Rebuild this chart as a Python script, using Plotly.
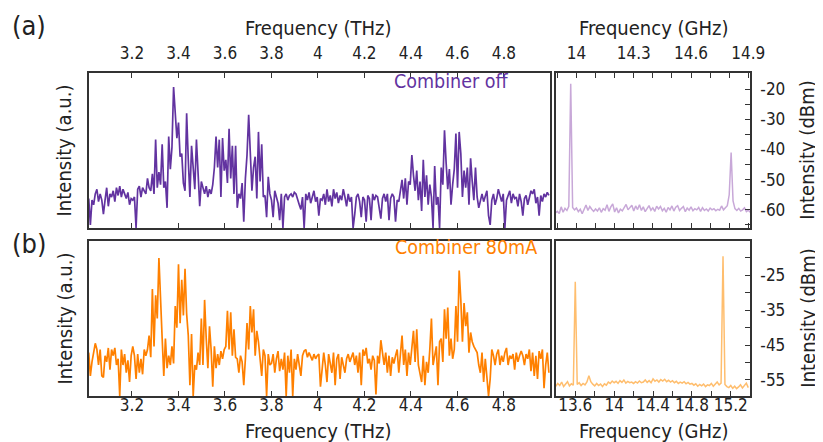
import numpy as np
import plotly.graph_objects as go

# ---------------- data ----------------
# THz spectra (arbitrary units, 0-100), sampled on a regular frequency grid
thz_start = 3.014
thz_step = 0.00702

int_off = [
    19, 2, 18, 15, 22, 25, 17, 22, 18, 9,
    18, 26, 14, 22, 20, 24, 17, 26, 21, 27,
    20, 25, 22, 19, 23, 15, 19, 18, 20, 0,
    25, 27, 20, 26, 24, 22, 32, 26, 24, 35,
    22, 57, 26, 36, 28, 54, 26, 30, 13, 59,
    38, 52, 91, 70, 58, 68, 46, 48, 29, 24,
    74, 44, 20, 53, 38, 25, 57, 30, 14, 30,
    26, 22, 27, 20, 25, 22, 28, 39, 59, 39,
    57, 20, 58, 37, 44, 29, 64, 32, 53, 22,
    53, 13, 22, 19, 29, 4, 32, 47, 73, 46,
    24, 39, 46, 19, 62, 30, 54, 20, 21, 7,
    33, 22, 18, 7, 24, 20, 16, 5, 22, 0,
    20, 22, 18, 21, 22, 20, 23, 22, 18, 15,
    12, 20, 0, 22, 18, 23, 16, 21, 24, 17,
    20, 8, 19,
    18, 22, 15, 25, 17, 21, 14, 25, 19, 23,
    16, 21, 18, 25, 20, 14, 22, 17, 20, 0,
    9, 20, 22, 17, 7, 20, 18, 4, 21, 19,
    5, 22, 18, 21, 20, 14, 6, 19, 22, 17,
    22, 5, 19, 22, 20, 4, 18, 17, 25, 31,
    19, 32, 15, 30, 28, 47, 34, 24, 37, 18,
    30, 11, 44, 20, 34, 15, 28, 20, 0, 40,
    15, 20, 0, 39, 28, 63, 42, 25, 38, 15,
    28, 38, 61, 26, 62, 48, 20, 37, 26, 39,
    15, 45, 30, 18, 39, 20, 13, 18, 22, 17,
    21, 24, 8, 2, 18, 22, 15, 19, 25, 20,
    17, 22, 0, 18, 21, 24, 16, 22, 19, 20,
    14, 22, 17, 8, 19, 21, 15, 20, 24, 22,
    25, 16, 20, 8, 21, 17, 22, 20, 23, 21,
]

int_80ma = [
    28, 13, 22, 28, 34, 30, 20, 30, 13, 12,
    26, 22, 31, 17, 30, 26, 31, 20, 24, 0,
    30, 20, 27, 15, 23, 9, 26, 32, 26, 11,
    27, 15, 24, 14, 30, 26, 30, 39, 25, 69,
    32, 65, 50, 89, 58, 37, 13, 37, 18, 26,
    20, 32, 21, 58, 44, 85, 47, 75, 52, 82,
    53, 39, 7, 40, 0, 20, 17, 28, 20, 50,
    20, 62, 37, 18, 45, 30, 6, 32, 18, 27,
    20, 29, 24, 30, 32, 55, 30, 54, 26, 43,
    25, 24, 15, 26, 22, 7, 24, 47, 30, 58,
    41, 56, 26, 42, 35, 25, 13, 30, 26, 0,
    27, 20, 21, 27, 15, 24, 29, 16, 24, 17,
    28, 0, 26, 15, 30, 0, 24, 17, 27, 20,
    13, 26, 29, 30, 25, 28, 26, 23, 27, 24,
    26, 27, 6,
    15, 28, 20, 9, 27, 20, 15, 28, 7, 24,
    27, 11, 25, 20, 15, 24, 27, 22, 25, 28,
    20, 26, 15, 28, 7, 30, 26, 31, 21, 24,
    17, 26, 23, 1, 26, 21, 36, 27, 20, 28,
    15, 26, 13, 25, 21, 26, 30, 15, 27, 39,
    20, 30, 13, 28, 20, 30, 42, 22, 43, 20,
    13, 9, 26, 7, 22, 15, 30, 50, 20, 27,
    32, 7, 35, 37, 22, 56, 37, 57, 26, 37,
    24, 30, 58, 35, 81, 62, 35, 60, 45, 54,
    28, 41, 35, 32, 30, 28, 20, 15, 28, 9,
    24, 13, 0, 11, 30, 26, 20, 27, 30, 20,
    26, 22, 28, 31, 20, 26, 24, 27, 17, 28,
    22, 26, 29, 26, 20, 27, 24, 30, 16, 28,
    13, 26, 11, 29, 24, 30, 5, 20, 28, 15,
]

# GHz beat-note spectra (dBm)
ghz_off_start = 13.89
ghz_off_step = 0.01
dbm_off = [
    -61.0, -60.5, -61.2, -59.0, -60.8, -59.5, -60.2, -58.8, -18.3, -59.2,
    -60.0, -59.4, -60.6, -59.8, -61.3, -59.6, -58.4, -60.2, -58.9, -59.8,
    -60.5, -59.7, -60.4, -59.3, -60.8, -59.6, -60.1, -58.3, -60.5, -59.0,
    -58.0, -60.7, -59.3, -61.0, -59.8, -60.3, -59.1, -58.2, -60.0, -59.2,
    -58.5, -60.4, -58.7, -59.9, -58.3, -60.2, -59.0, -60.6, -59.4, -58.6,
    -60.1, -59.3, -60.5, -58.8, -59.7, -58.9, -60.3, -59.5, -60.8, -59.2,
    -60.0, -58.7, -60.4, -59.1, -58.6, -60.2, -59.5, -58.9, -60.6, -59.4,
    -60.1, -59.0, -60.3, -59.6, -60.0, -59.2, -60.5, -59.3, -60.2, -59.7,
    -60.4, -59.4, -60.0, -59.6, -60.3, -59.8, -60.1, -58.7, -60.0, -59.4,
    -58.6, -55.0, -41.0, -57.0, -59.6, -60.2, -59.5, -60.4, -60.0, -59.3,
    -60.6, -60.1, -60.8,
]

ghz_80_start = 13.40
ghz_80_step = 0.02
dbm_80ma = [
    -56.8, -56.0, -56.6, -55.6, -56.9, -56.2, -55.5, -56.7, -56.1, -56.5,
    -26.9, -56.3, -55.8, -56.6, -56.0, -56.4, -55.6, -53.8, -55.5, -56.2,
    -56.7, -56.0, -56.6, -56.2, -56.9, -56.1, -56.5, -55.6, -56.0, -55.3,
    -55.8, -55.4, -56.0, -55.2, -55.7, -55.0, -55.9, -55.4, -55.8, -55.6,
    -56.0, -55.5, -55.9, -55.3, -55.8, -55.6, -55.0, -55.7, -55.2, -55.8,
    -54.7, -55.4, -55.0, -55.6, -54.9, -55.3, -54.8, -55.5, -55.1, -55.6,
    -55.2, -55.8, -55.4, -56.0, -55.6, -55.9, -55.5, -56.1, -55.7, -56.2,
    -56.0, -56.5, -56.1, -56.8, -56.3, -56.7, -56.2, -56.9, -56.4, -56.6,
    -56.0, -56.8, -56.2, -55.6, -56.4, -55.9, -19.6, -56.3, -56.9, -57.2,
    -56.6, -57.4, -56.8, -57.5, -57.0, -56.4, -57.3, -56.7, -55.9, -57.2,
]

thz_ticks = [3.2, 3.4, 3.6, 3.8, 4.0, 4.2, 4.4, 4.6, 4.8]
thz_ticktext = ["3.2", "3.4", "3.6", "3.8", "4", "4.2", "4.4", "4.6", "4.8"]
ghz_top_ticks = [14.0, 14.3, 14.6, 14.9]
ghz_top_ticktext = ["14", "14.3", "14.6", "14.9"]
ghz_bot_ticks = [13.6, 14.0, 14.4, 14.8, 15.2]
ghz_bot_ticktext = ["13.6", "14", "14.4", "14.8", "15.2"]
dbm_top_ticks = [-20, -30, -40, -50, -60]
dbm_top_ticktext = ["-20", "-30", "-40", "-50", "-60"]
dbm_bot_ticks = [-25, -35, -45, -55]
dbm_bot_ticktext = ["-25", "-35", "-45", "-55"]

freq_thz_off = np.round(thz_start + thz_step * np.arange(len(int_off)), 4)
freq_thz_80 = np.round(thz_start + thz_step * np.arange(len(int_80ma)), 4)
freq_ghz_off = np.round(ghz_off_start + ghz_off_step * np.arange(len(dbm_off)), 3)
freq_ghz_80 = np.round(ghz_80_start + ghz_80_step * np.arange(len(dbm_80ma)), 3)

# ---------------- style ----------------
W, H = 823, 442
FONT = "DejaVu Sans Condensed"
PURPLE = "#6233A0"
ORANGE = "#FF8000"
LPURPLE = "#C8A8D8"
LORANGE = "#FFBE6E"
AX = "#333333"
TICK_SIZE = 17
TITLE_SIZE = 20


def px_x(p):
    return p / W


def px_y(p):
    return 1 - p / H


L0, L1 = px_x(82), px_x(552)
R0, R1 = px_x(558), px_x(756)
T0, T1 = px_y(220), px_y(65)
B0, B1 = px_y(388), px_y(233)

fig = go.Figure()
fig.add_trace(go.Scatter(x=freq_thz_off, y=int_off, mode="lines",
                         line=dict(color=PURPLE, width=1.7), xaxis="x", yaxis="y"))
fig.add_trace(go.Scatter(x=freq_ghz_off, y=dbm_off, mode="lines",
                         line=dict(color=LPURPLE, width=1.5), xaxis="x2", yaxis="y2"))
fig.add_trace(go.Scatter(x=freq_thz_80, y=int_80ma, mode="lines",
                         line=dict(color=ORANGE, width=1.7), xaxis="x3", yaxis="y3"))
fig.add_trace(go.Scatter(x=freq_ghz_80, y=dbm_80ma, mode="lines",
                         line=dict(color=LORANGE, width=1.5), xaxis="x4", yaxis="y4"))

common = dict(showline=True, linecolor=AX, linewidth=1.5, showgrid=False,
              zeroline=False, ticklen=5, tickwidth=1.2, tickcolor=AX,
              tickfont=dict(family=FONT, size=TICK_SIZE, color="#222222"))
minor_style = dict(ticks="inside", ticklen=5, tickwidth=1.2, tickcolor=AX, showgrid=False)

fig.update_layout(
    width=W, height=H, margin=dict(l=0, r=0, t=0, b=0),
    paper_bgcolor="white", plot_bgcolor="white", showlegend=False,
    font=dict(family=FONT, color="#222222"),
    xaxis=dict(domain=[L0, L1], anchor="y", side="top", range=[3.013, 4.998],
               tickmode="array", tickvals=thz_ticks, ticktext=thz_ticktext,
               ticks="inside", mirror="ticks", ticklabelstandoff=5, **common),
    yaxis=dict(domain=[T0, T1], anchor="x", range=[0, 100], showticklabels=False,
               ticks="", mirror=True, **common),
    xaxis2=dict(domain=[R0, R1], anchor="y2", side="top", range=[13.892, 14.91],
                tickmode="array", tickvals=ghz_top_ticks, ticktext=ghz_top_ticktext,
                ticks="inside", mirror="ticks", ticklabelstandoff=5,
                minor=dict(tick0=14.0, dtick=0.1, **minor_style), **common),
    yaxis2=dict(domain=[T0, T1], anchor="x2", side="right", range=[-66, -14.7],
                tickmode="array", tickvals=dbm_top_ticks, ticktext=dbm_top_ticktext,
                ticks="inside", mirror=True, ticklabelstandoff=5,
                minor=dict(tick0=0, dtick=5, **minor_style), **common),
    xaxis3=dict(domain=[L0, L1], anchor="y3", side="bottom", range=[3.013, 4.998],
                tickmode="array", tickvals=thz_ticks, ticktext=thz_ticktext,
                ticks="inside", mirror=True, ticklabelstandoff=-7, **common),
    yaxis3=dict(domain=[B0, B1], anchor="x3", range=[0, 100], showticklabels=False,
                ticks="", mirror=True, **common),
    xaxis4=dict(domain=[R0, R1], anchor="y4", side="bottom", range=[13.4, 15.4],
                tickmode="array", tickvals=ghz_bot_ticks, ticktext=ghz_bot_ticktext,
                ticks="inside", mirror=True, ticklabelstandoff=-7,
                minor=dict(tick0=13.6, dtick=0.2, **minor_style), **common),
    yaxis4=dict(domain=[B0, B1], anchor="x4", side="right", range=[-59.6, -15.2],
                tickmode="array", tickvals=dbm_bot_ticks, ticktext=dbm_bot_ticktext,
                ticks="inside", mirror=True, ticklabelstandoff=5,
                minor=dict(tick0=0, dtick=5, **minor_style), **common),
)


def note(text, x, y, size=TITLE_SIZE, color="#222222", angle=0):
    fig.add_annotation(text=text, x=px_x(x), y=px_y(y), xref="paper", yref="paper",
                       xanchor="center", yanchor="middle", showarrow=False,
                       textangle=angle, font=dict(family=FONT, size=size, color=color))


note("(a)", 21, 18, size=27)
note("(b)", 21, 235, size=27)
note("Frequency (THz)", 316, 20)
note("Frequency (GHz)", 657, 20)
note("Frequency (THz)", 316, 423)
note("Frequency (GHz)", 657, 423)
note("Intensity (a.u.)", 58, 142.5, angle=-90)
note("Intensity (a.u.)", 58, 310.5, angle=-90)
note("Intensity (dBm)", 814, 142.5, angle=-90)
note("Intensity (dBm)", 814, 310.5, angle=-90)
note("Combiner off", 452, 74, size=19.5, color=PURPLE)
note("Combiner 80mA", 466, 240, size=19.5, color=ORANGE)

fig.write_html("out.html")
